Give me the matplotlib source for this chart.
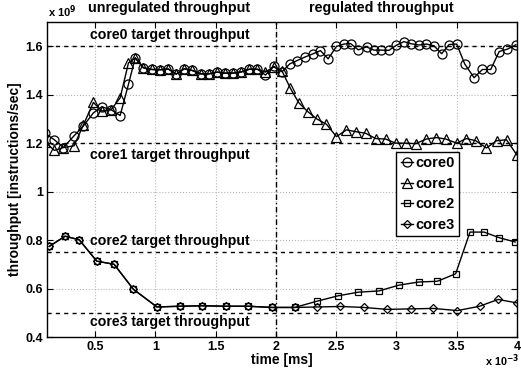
import numpy as np
import matplotlib.pyplot as plt

plt.rcParams['font.family'] = ['Liberation Sans', 'DejaVu Sans']
plt.rcParams['font.weight'] = 'bold'

# --- Daten (Zeit in ms, Durchsatz in 1e9 Instr./s) ---
t_core0 = [0.085, 0.161, 0.236, 0.324, 0.402, 0.485, 0.555, 0.632, 0.707, 0.776, 0.832,
           0.900, 0.970, 1.039, 1.106, 1.172, 1.240, 1.305, 1.374, 1.444, 1.511,
           1.575, 1.646, 1.713, 1.779, 1.846, 1.913, 1.981, 2.051, 2.114, 2.176,
           2.239, 2.309, 2.369, 2.433, 2.502, 2.563, 2.619, 2.683, 2.752, 2.812,
           2.874, 2.937, 2.999, 3.062, 3.123, 3.186, 3.248, 3.311, 3.375, 3.436,
           3.500, 3.566, 3.644, 3.713, 3.782, 3.852, 3.921, 3.990]
core0 = [1.240, 1.214, 1.182, 1.230, 1.271, 1.325, 1.350, 1.338, 1.314, 1.443, 1.552,
         1.511, 1.504, 1.503, 1.506, 1.485, 1.507, 1.500, 1.486, 1.486, 1.493,
         1.489, 1.489, 1.494, 1.505, 1.505, 1.481, 1.517, 1.495, 1.527, 1.541,
         1.555, 1.569, 1.582, 1.548, 1.599, 1.609, 1.611, 1.585, 1.597, 1.584,
         1.584, 1.583, 1.604, 1.619, 1.610, 1.605, 1.609, 1.602, 1.569, 1.607,
         1.609, 1.527, 1.470, 1.504, 1.504, 1.578, 1.588, 1.606]

t_core1 = [0.085, 0.161, 0.236, 0.324, 0.402, 0.485, 0.555, 0.632, 0.707, 0.776, 0.832,
           0.900, 0.970, 1.039, 1.106, 1.172, 1.240, 1.305, 1.374, 1.444, 1.511,
           1.575, 1.646, 1.713, 1.779, 1.846, 1.912, 1.981, 2.051, 2.120, 2.189,
           2.264, 2.342, 2.419, 2.502, 2.585, 2.666, 2.743, 2.827, 2.910, 2.993,
           3.076, 3.159, 3.248, 3.331, 3.408, 3.500, 3.580, 3.658, 3.747, 3.830,
           3.913, 3.998]
core1 = [1.205, 1.170, 1.182, 1.189, 1.275, 1.368, 1.333, 1.338, 1.387, 1.531, 1.552,
         1.511, 1.504, 1.503, 1.506, 1.485, 1.507, 1.500, 1.486, 1.486, 1.493,
         1.489, 1.489, 1.494, 1.505, 1.505, 1.493, 1.515, 1.497, 1.426, 1.367,
         1.330, 1.299, 1.278, 1.227, 1.255, 1.247, 1.241, 1.219, 1.217, 1.200,
         1.200, 1.198, 1.217, 1.223, 1.217, 1.200, 1.219, 1.210, 1.180, 1.210,
         1.214, 1.152]

t_core2 = [0.119, 0.250, 0.368, 0.513, 0.657, 0.817, 1.012, 1.206, 1.390, 1.585, 1.768,
           1.968, 2.156, 2.342, 2.516, 2.683, 2.854, 3.020, 3.184, 3.339, 3.491,
           3.610, 3.727, 3.852, 3.985]
core2 = [0.774, 0.816, 0.801, 0.713, 0.700, 0.597, 0.524, 0.527, 0.529, 0.527, 0.527,
         0.522, 0.522, 0.548, 0.570, 0.585, 0.590, 0.614, 0.627, 0.630, 0.661,
         0.833, 0.833, 0.810, 0.792]

t_core3 = [0.119, 0.250, 0.368, 0.513, 0.657, 0.817, 1.012, 1.206, 1.390, 1.585, 1.768,
           1.968, 2.156, 2.342, 2.535, 2.729, 2.923, 3.117, 3.305, 3.505, 3.690,
           3.843, 3.998]
core3 = [0.774, 0.816, 0.801, 0.713, 0.700, 0.597, 0.524, 0.527, 0.529, 0.527, 0.527,
         0.522, 0.522, 0.524, 0.526, 0.522, 0.514, 0.516, 0.518, 0.509, 0.527,
         0.555, 0.541]

targets = [1.6, 1.2, 0.75, 0.5]
target_labels = ["core0 target throughput", "core1 target throughput",
                 "core2 target throughput", "core3 target throughput"]
target_label_y = [1.645, 1.152, 0.798, 0.461]
t_switch = 2.0

# --- Plot ---
fig = plt.figure(figsize=(5.21, 3.69), dpi=100)
ax = fig.add_axes([0.0902, 0.0867, 0.9021, 0.8537])

ax.plot(t_core0, core0, '-o', color='k', lw=1, ms=6.5, mfc='none', mew=0.9, label='core0')
ax.plot(t_core1, core1, '-^', color='k', lw=1, ms=6.5, mfc='none', mew=0.9, label='core1')
ax.plot(t_core2, core2, '-s', color='k', lw=1, ms=5, mfc='none', mew=0.9, label='core2')
ax.plot(t_core3, core3, '-D', color='k', lw=1, ms=4.5, mfc='none', mew=0.9, label='core3')

for y, txt, ty in zip(targets, target_labels, target_label_y):
    ax.axhline(y, color='k', ls=(0, (3, 3)), lw=1)
    ax.text(1.115, ty, txt, ha='center', va='center', fontsize=10.2, fontweight='bold')
ax.axvline(t_switch, color='k', ls=(0, (4, 2, 1, 2)), lw=1)

ax.set_xlim(0.1, 4.0)
ax.set_ylim(0.4, 1.7)
ax.set_xticks([0.5, 1, 1.5, 2, 2.5, 3, 3.5, 4])
ax.set_xticklabels(['0.5', '1', '1.5', '2', '2.5', '3', '3.5', '4'])
ax.set_yticks([0.4, 0.6, 0.8, 1.0, 1.2, 1.4, 1.6])
ax.set_yticklabels(['0.4', '0.6', '0.8', '1', '1.2', '1.4', '1.6'])
ax.tick_params(direction='in', top=True, right=True, labelsize=9, length=4, pad=3)
ax.grid(True, color='#b8b8b8', ls=':', lw=0.8)
for s in ax.spines.values():
    s.set_linewidth(1)

ax.set_xlabel("time [ms]", fontsize=10, fontweight='bold', labelpad=0)
ax.set_ylabel("throughput [instructions/sec]", fontsize=10, fontweight='bold', labelpad=2)

fig.text(0.324, 0.997, "unregulated throughput", ha='center', va='top', fontsize=10.3, fontweight='bold')
fig.text(0.731, 0.997, "regulated throughput", ha='center', va='top', fontsize=10.3, fontweight='bold')
fig.text(0.092, 0.945, r"x 10$^{\mathbf{9}}$", ha='left', va='bottom', fontsize=8, fontweight='bold')
fig.text(0.93, 0.0, r"x 10$^{\mathbf{-3}}$", ha='left', va='bottom', fontsize=7.8, fontweight='bold')

leg = ax.legend(loc='upper left', bbox_to_anchor=(0.743, 0.588), fontsize=10.5,
                handlelength=0.85, handletextpad=0.15, borderpad=0.3, labelspacing=0.45,
                fancybox=False, framealpha=1, edgecolor='k', borderaxespad=0)
leg.get_frame().set_linewidth(1)

plt.savefig("out.png", dpi=100)
